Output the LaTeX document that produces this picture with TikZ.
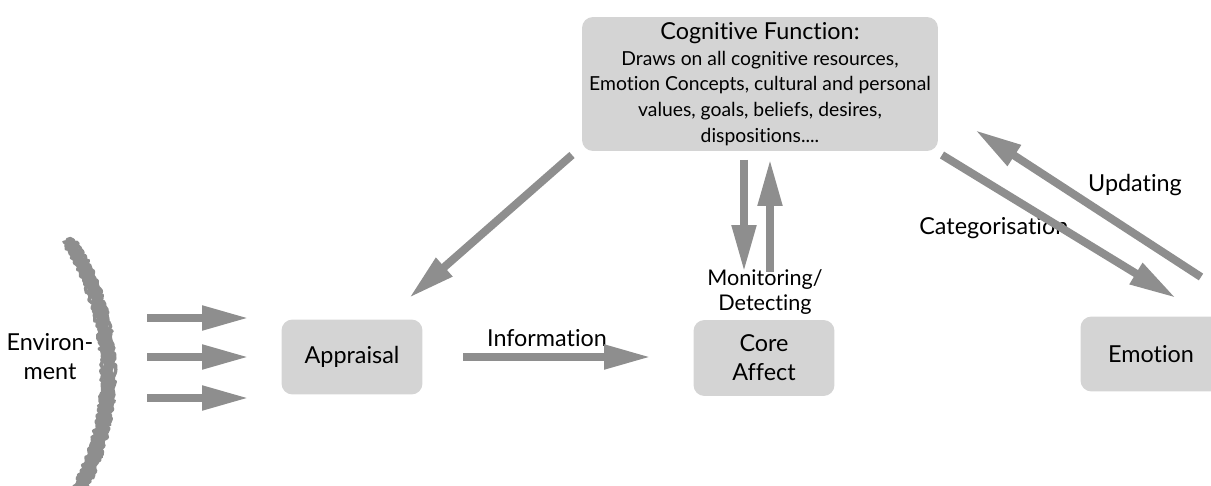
\documentclass[tikz,border=0pt]{standalone}
\usepackage{fontspec}
\setmainfont{Lato}[Ligatures=NoCommon]
\usetikzlibrary{arrows.meta,decorations.pathmorphing}

\definecolor{boxgray}{HTML}{D4D4D4}
\definecolor{arrowgray}{HTML}{8E8E8E}

\tikzset{
  box/.style={fill=boxgray, rounded corners=0.22cm, align=center,
    minimum width=2.82cm, minimum height=1.5cm, font=\fontsize{13.3}{16.5}\selectfont},
  bigarrow/.style={draw=arrowgray, line width=0.16cm,
    -{Triangle[length=0.94cm, width=0.46cm]}},
  lbl/.style={font=\fontsize{13.3}{16.5}\selectfont, align=center},
  brush/.style={arrowgray, line join=round, line cap=round, decorate,
    decoration={random steps, segment length=1pt, amplitude=0.9pt}}
}

\begin{document}
\begin{tikzpicture}[x=0.02cm, y=-0.02cm]
  \useasboundingbox (0,0) rectangle (1211,486);

  % boxes
  \node[box, minimum width=7.12cm, minimum height=2.68cm, inner ysep=2pt,
        font=\fontsize{11}{13.7}\selectfont] (cog) at (760,84)
    {{\fontsize{13.3}{15}\selectfont Cognitive Function:}\\[1pt]
      Draws on all cognitive resources,\\[1pt]
      Emotion Concepts, cultural and personal\\[1pt]
      values, goals, beliefs, desires,\\[1pt]
      dispositions....};
  \node[box] (apr) at (352,357) {Appraisal};
  \node[box, minimum height=1.52cm] (core) at (764,358) {Core\\Affect};
  \node[box] (emo) at (1151,354) {Emotion};

  % environment edge, a rough brush stroke
  \foreach \o/\w in {0/0.21cm, -3.5/0.07cm, 3.5/0.07cm}
    \draw[brush, line width=\w, xshift=\o]
      (70,242) .. controls (118,320) and (120,410) .. (80,488);
  \node[lbl] (env) at (50,357) {Environ-\\ment};

  % arrow end points
  \coordinate (e1) at (147,318);  \coordinate (f1) at (249,318);
  \coordinate (e2) at (147,357);  \coordinate (f2) at (249,357);
  \coordinate (e3) at (147,398);  \coordinate (f3) at (249,398);
  \coordinate (c1) at (572,155);  \coordinate (a1) at (409,298);
  \coordinate (a2) at (463,357);  \coordinate (k2) at (651,357);
  \coordinate (c3) at (744,160);  \coordinate (k3) at (744,272);
  \coordinate (k4) at (770,272);  \coordinate (c4) at (770,159);
  \coordinate (c5) at (942,155);  \coordinate (m5) at (1176,298);
  \coordinate (m6) at (1201,277); \coordinate (c6) at (975,130);

  % labels
  \node[lbl] (info) at (547,338) {Information};
  \node[lbl, font=\fontsize{12.3}{14.5}\selectfont] (mon) at (765,292) {Monitoring/\\Detecting};
  \node[lbl, anchor=west, inner sep=0pt] (cat) at (919,228) {Categorisation};
  \node[lbl] (upd) at (1135,185) {Updating};

  % arrows
  \foreach \s/\t in {e1/f1, e2/f2, e3/f3, c1/a1, a2/k2, c3/k3, k4/c4, c5/m5, m6/c6}
    \draw[bigarrow] (\s) -- (\t);
\end{tikzpicture}
\end{document}
